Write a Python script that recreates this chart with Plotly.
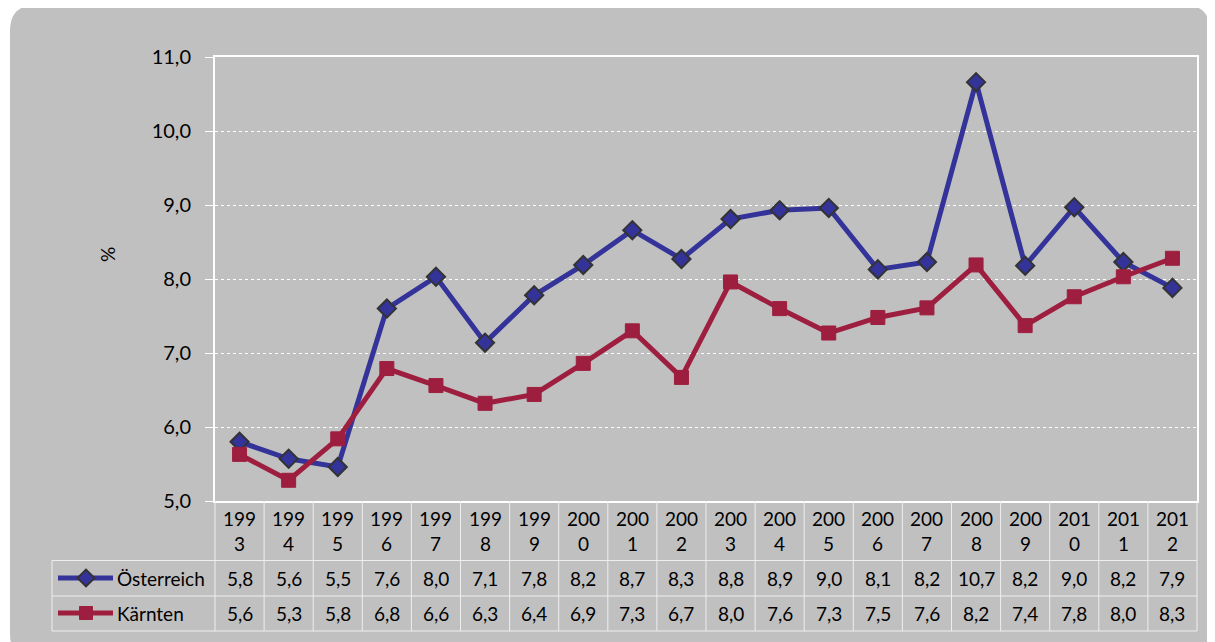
import plotly.graph_objects as go

W, H = 1215, 642

years = [str(y) for y in range(1993, 2013)]
oesterreich = [5.80, 5.57, 5.46, 7.60, 8.03, 7.14, 7.78, 8.19, 8.66, 8.27,
               8.81, 8.93, 8.96, 8.13, 8.23, 10.66, 8.18, 8.97, 8.23, 7.88]
kaernten = [5.63, 5.28, 5.84, 6.79, 6.56, 6.32, 6.44, 6.86, 7.30, 6.67,
            7.96, 7.60, 7.27, 7.48, 7.61, 8.19, 7.37, 7.76, 8.03, 8.28]
series_names = ["Österreich", "Kärnten"]
y_ticks = [5, 6, 7, 8, 9, 10, 11]

BLUE = "#333399"
RED = "#9E1E3F"
GRAY = "#C0C0C0"
FONT = "Lato"
FS = 19

# screen pixel -> paper coordinate (page body has an 8px margin)
OFF = 8
PX_L, PX_R, PX_T, PX_B = 215, 1197, 57, 501
def px(x):
    return (x - OFF) / W
def py(y):
    return 1 - (y - OFF) / H

n = len(years)
col_w = (PX_R - PX_L) / n
idx = list(range(n))

fig = go.Figure()

fig.add_trace(go.Scatter(
    x=idx, y=oesterreich, mode="lines+markers", name=series_names[0],
    line=dict(color=BLUE, width=5),
    marker=dict(symbol="diamond", size=14, color=BLUE, line=dict(color="#333333", width=2)),
    showlegend=False, xaxis="x", yaxis="y"))
fig.add_trace(go.Scatter(
    x=idx, y=kaernten, mode="lines+markers", name=series_names[1],
    line=dict(color=RED, width=5),
    marker=dict(symbol="square", size=14, color=RED, line=dict(color=RED, width=1)),
    showlegend=False, xaxis="x", yaxis="y"))

# legend glyphs in the table (overlay axis in screen pixels)
row_y = [578, 613]
colors = [BLUE, RED]
symbols = ["diamond", "square"]
mlines = ["#333333", RED]
for i in range(2):
    fig.add_trace(go.Scatter(x=[58, 113], y=[row_y[i], row_y[i]], mode="lines",
                             line=dict(color=colors[i], width=5), showlegend=False,
                             xaxis="x2", yaxis="y2", hoverinfo="skip"))
    fig.add_trace(go.Scatter(x=[86], y=[row_y[i]], mode="markers",
                             marker=dict(symbol=symbols[i], size=13,
                                         color=colors[i], line=dict(color=mlines[i], width=2 if i == 0 else 1)),
                             showlegend=False, xaxis="x2", yaxis="y2", hoverinfo="skip"))

shapes = []
r = 26
x0, x1, y0, y1 = 10, 1210, 5, 660
path = (f"M {px(x0+r)},{py(y0)} L {px(x1-r)},{py(y0)} "
        f"Q {px(x1)},{py(y0)} {px(x1)},{py(y0+r)} "
        f"L {px(x1)},{py(y1-r)} Q {px(x1)},{py(y1)} {px(x1-r)},{py(y1)} "
        f"L {px(x0+r)},{py(y1)} Q {px(x0)},{py(y1)} {px(x0)},{py(y1-r)} "
        f"L {px(x0)},{py(y0+r)} Q {px(x0)},{py(y0)} {px(x0+r)},{py(y0)} Z")
shapes.append(dict(type="path", xref="paper", yref="paper", path=path,
                   fillcolor=GRAY, line=dict(width=0), layer="below"))

LC = "#EEEEEE"
for k in range(n + 1):
    xk = PX_L + k * col_w
    shapes.append(dict(type="line", xref="paper", yref="paper",
                       x0=px(xk), x1=px(xk), y0=py(PX_B), y1=py(631),
                       line=dict(color=LC, width=1)))
shapes.append(dict(type="line", xref="paper", yref="paper",
                   x0=px(52), x1=px(52), y0=py(560.5), y1=py(631),
                   line=dict(color=LC, width=1)))
for yy in [560.5, 596, 631]:
    shapes.append(dict(type="line", xref="paper", yref="paper",
                       x0=px(52), x1=px(PX_L + n * col_w), y0=py(yy), y1=py(yy),
                       line=dict(color=LC, width=1)))

annotations = []
tf = dict(family=FONT, size=FS, color="#000000")
for i, yr in enumerate(years):
    annotations.append(dict(x=i, xref="x", y=py(531), yref="paper",
                            text=yr[:3] + "<br>" + yr[3:], showarrow=False,
                            font=tf, xanchor="center", yanchor="middle"))
    for vals, yy in [(oesterreich, 578), (kaernten, 613)]:
        annotations.append(dict(x=i, xref="x", y=py(yy), yref="paper",
                                text=f"{vals[i]:.1f}".replace(".", ","), showarrow=False,
                                font=tf, xanchor="center", yanchor="middle"))
for name, yy in zip(series_names, row_y):
    annotations.append(dict(x=px(115), xref="paper", y=py(yy), yref="paper",
                            text=name, showarrow=False, font=tf,
                            xanchor="left", yanchor="middle"))
annotations.append(dict(x=px(107), xref="paper", y=py(255), yref="paper",
                        text="%", showarrow=False, font=tf, textangle=-90,
                        xanchor="center", yanchor="middle"))

fig.update_layout(
    width=W, height=H,
    margin=dict(l=0, r=0, t=0, b=0, autoexpand=False),
    paper_bgcolor="white", plot_bgcolor="rgba(0,0,0,0)",
    separators=",.",
    font=dict(family=FONT, size=FS, color="black"),
    xaxis=dict(domain=[px(PX_L), px(PX_R)], automargin=False,
               range=[-0.5, n - 0.5], showticklabels=False, ticks="",
               showgrid=False, showline=True, linecolor="white", linewidth=2,
               mirror=True, zeroline=False, fixedrange=True),
    yaxis=dict(domain=[py(PX_B), py(PX_T)], range=[5, 11], tickvals=y_ticks,
               automargin=False,
               tickformat=".1f", ticks="outside", ticklen=8, tickcolor="white",
               tickwidth=1, ticklabelstandoff=10,
               showgrid=True, gridcolor="white", griddash="dot", gridwidth=1,
               showline=True, linecolor="white", linewidth=2, mirror=True,
               zeroline=False, tickfont=dict(family=FONT, size=20, color="black")),
    xaxis2=dict(domain=[0, 1], range=[OFF, W + OFF], visible=False, anchor="y2",
                automargin=False, fixedrange=True),
    yaxis2=dict(domain=[0, 1], range=[H + OFF, OFF], visible=False, anchor="x2",
                automargin=False, fixedrange=True),
    shapes=shapes, annotations=annotations,
)

fig.write_html("out.html")
